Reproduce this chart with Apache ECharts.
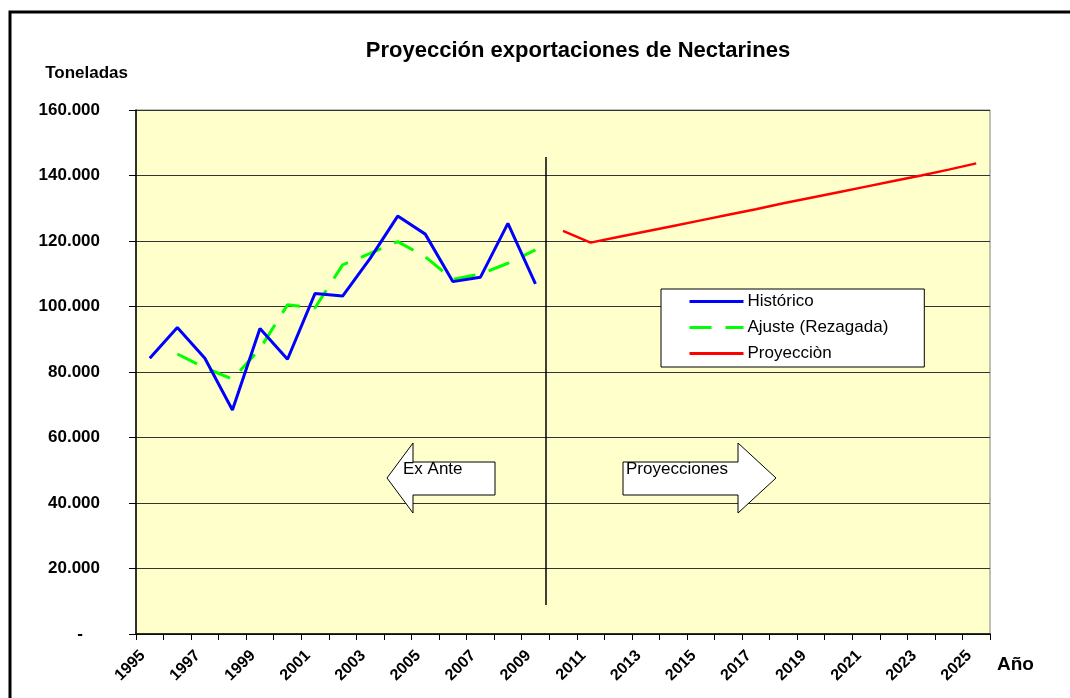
<!DOCTYPE html>
<html lang="es">
<head>
  <meta charset="UTF-8">
  <script src="https://cdn.jsdelivr.net/npm/echarts@6/dist/echarts.min.js"></script>
  <title>Proyección exportaciones de Nectarines</title>
  <style>
    html, body { margin: 0; padding: 0; background: #fff; }
    #chart { width: 1070px; height: 698px; }
  </style>
</head>
<body>
  <div id="chart"></div>
  <script>
    // años 1995 - 2025
    var anios = [];
    for (var a = 1995; a <= 2025; a++) anios.push(String(a));

    // toneladas
    var historico = [84200, 93600, 84200, 68400, 93300, 83900, 104000, 103200, 114700, 127600, 122100, 107600, 108900, 125400, 106900];
    var ajuste = [null, 85500, 81300, 77800, 87100, 100500, 99600, 112700, 116200, 119800, 115200, 108300, 109900, 113200, 117300];
    var proyeccion = [123100, 119500, 121200, 122900, 124600, 126300, 128000, 129700, 131500, 133200, 134900, 136600, 138300, 140000, 141800, 143700];

    var FUENTE = 'Liberation Sans, Arial, sans-serif';

    function pad(arr, before, total) {
      var out = [];
      for (var i = 0; i < before; i++) out.push(null);
      out = out.concat(arr);
      while (out.length < total) out.push(null);
      return out;
    }
    // 20000 -> "20.000", 0 -> "-"
    function fmt(v) {
      if (v === 0) return '{dash|-}';
      return String(v).replace(/\B(?=(\d{3})+(?!\d))/g, '.');
    }

    var n = anios.length;
    var serieHist = pad(historico, 0, n);
    var serieAjuste = pad(ajuste, 0, n);
    var serieProy = pad(proyeccion, historico.length, n);

    var myChart = echarts.init(document.getElementById('chart'), null, {renderer: 'canvas'});

    function flecha(puntos) {
      return {
        type: 'polygon',
        shape: {points: puntos},
        style: {fill: '#fff', stroke: '#000', lineWidth: 1},
        z: 10
      };
    }
    function texto(x, y, t, size, bold) {
      return {
        type: 'text', left: x, top: y, z: 11,
        style: {text: t, fontSize: size, fontWeight: bold ? 'bold' : 'normal', fill: '#000', fontFamily: FUENTE}
      };
    }

    var opt = {
      animation: false,
      backgroundColor: '#fff',
      textStyle: {fontFamily: FUENTE},
      title: {
        text: 'Proyección exportaciones de Nectarines',
        left: 573,
        top: 35,
        textAlign: 'center',
        textStyle: {fontSize: 22, fontWeight: 'bold', color: '#000', fontFamily: FUENTE}
      },
      legend: {
        orient: 'vertical',
        left: 661,
        top: 289,
        padding: [4, 36, 5, 27],
        itemWidth: 54,
        itemHeight: 14,
        itemGap: 9,
        backgroundColor: '#fff',
        borderColor: '#000',
        borderWidth: 1,
        itemStyle: {opacity: 0},
        lineStyle: {width: 3},
        textStyle: {fontSize: 17, color: '#000', padding: [0, 0, 0, -1]},
        data: ['Histórico', 'Ajuste (Rezagada)', 'Proyecciòn']
      },
      grid: {
        left: 136,
        right: 80,
        top: 110,
        bottom: 64,
        show: true,
        backgroundColor: '#FFFFCC',
        borderColor: '#808080',
        borderWidth: 1
      },
      xAxis: {
        type: 'category',
        data: anios,
        boundaryGap: true,
        axisLine: {lineStyle: {color: '#000', width: 1.5}},
        axisTick: {show: true, interval: 0, length: 6, lineStyle: {color: '#000'}},
        axisLabel: {interval: 1, rotate: 45, margin: 12, padding: [0, 10, 0, 0], fontSize: 16, fontWeight: 'bold', color: '#000'},
        splitLine: {show: false}
      },
      yAxis: {
        type: 'value',
        min: 0,
        max: 160000,
        interval: 20000,
        name: 'Toneladas',
        nameLocation: 'end',
        nameGap: 28,
        nameTextStyle: {fontSize: 17, fontWeight: 'bold', color: '#000', align: 'right', padding: [0, 8, 0, 0]},
        axisLine: {show: true, lineStyle: {color: '#000', width: 1.5}},
        axisTick: {show: true, length: 7, lineStyle: {color: '#000'}},
        axisLabel: {
          margin: 36,
          fontSize: 17,
          fontWeight: 'bold',
          color: '#000',
          formatter: fmt,
          rich: {dash: {fontSize: 17, fontWeight: 'bold', color: '#000', padding: [0, 17, 0, 0]}}
        },
        splitLine: {show: true, lineStyle: {color: '#333', width: 1}}
      },
      series: [
        {
          name: 'Histórico',
          type: 'line',
          data: serieHist,
          symbol: 'none',
          color: '#0000FF',
          lineStyle: {color: '#0000FF', width: 3},
          z: 4
        },
        {
          name: 'Ajuste (Rezagada)',
          type: 'line',
          data: serieAjuste,
          symbol: 'none',
          color: '#00FF00',
          lineStyle: {color: '#00FF00', width: 3, type: [22, 14]},
          z: 3
        },
        {
          name: 'Proyecciòn',
          type: 'line',
          data: serieProy,
          symbol: 'none',
          color: '#FF0000',
          lineStyle: {color: '#FF0000', width: 2.5},
          z: 3
        }
      ],
      graphic: [
        // marco exterior
        {type: 'rect', shape: {x: 10, y: 12, width: 1100, height: 720}, style: {fill: 'none', stroke: '#000', lineWidth: 3}, z: 20},
        // linea divisoria
        {type: 'line', shape: {x1: 546, y1: 157, x2: 546, y2: 605}, style: {stroke: '#000', lineWidth: 1.5}, z: 10},
        // flecha Ex Ante
        flecha([[387, 478], [413, 443], [413, 462], [495, 462], [495, 495], [413, 495], [413, 513]]),
        texto(403, 461, 'Ex Ante', 17, false),
        // flecha Proyecciones
        flecha([[623, 462], [738, 462], [738, 443], [776, 478], [738, 513], [738, 495], [623, 495]]),
        texto(626, 461, 'Proyecciones', 17, false),
        // nombre eje X
        texto(997, 655, 'Año', 19, true)
      ]
    };

    myChart.setOption(opt);
  </script>
</body>
</html>
